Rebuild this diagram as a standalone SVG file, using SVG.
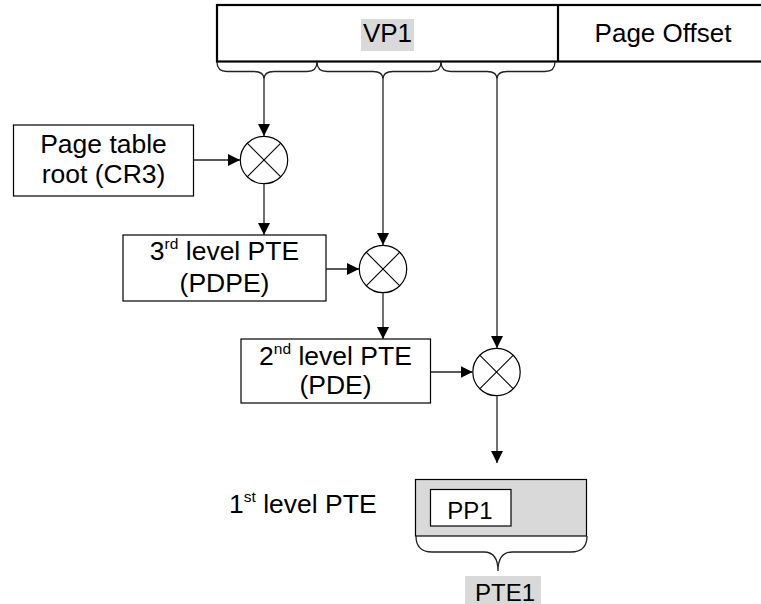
<svg xmlns="http://www.w3.org/2000/svg" width="761" height="604" viewBox="0 0 761 604">
<style>
text{font-family:"Liberation Sans",Arial,sans-serif;fill:#000}
.t24{font-size:24px}
.t26{font-size:26.5px}
.top{font-size:26px}
.sup{font-size:15.5px}
.box{fill:#fff;stroke:#000;stroke-width:1.2}
.line{fill:none;stroke:#222;stroke-width:1.3}
.brace{fill:none;stroke:#222;stroke-width:1.3}
.circ{fill:#fff;stroke:#000;stroke-width:1.2}
.hl{fill:#d9d9d9}
</style>
<defs>
<marker id="arr" markerUnits="userSpaceOnUse" markerWidth="13" markerHeight="13" refX="12" refY="6" orient="auto">
<path d="M0,0 L12,6 L0,12 Z" fill="#000"/>
</marker>
<g id="mult-sym">
<circle r="23.7" class="circ"/>
<line x1="-16.8" y1="-16.8" x2="16.8" y2="16.8" stroke="#000" stroke-width="1.1"/>
<line x1="-16.8" y1="16.8" x2="16.8" y2="-16.8" stroke="#000" stroke-width="1.1"/>
</g>
</defs>

<g id="address">
<rect x="217" y="5" width="548" height="56.5" fill="#fff" stroke="#000" stroke-width="2.2"/>
<line x1="558" y1="5" x2="558" y2="61.5" stroke="#000" stroke-width="2.2"/>
<rect class="hl" x="361" y="19" width="53" height="32"/>
<text class="top" x="387.5" y="42" text-anchor="middle">VP1</text>
<text class="top" x="663" y="42" text-anchor="middle">Page Offset</text>
<path class="brace" d="M217,62 Q217,71.5 227,71.5 H254 Q264,71.5 264,79 Q264,71.5 274,71.5 H307 Q317,71.5 317,62"/>
<path class="brace" d="M317,62 Q317,71.5 327,71.5 H373 Q383,71.5 383,79 Q383,71.5 393,71.5 H431 Q441,71.5 441,62"/>
<path class="brace" d="M441,62 Q441,71.5 451,71.5 H487 Q497,71.5 497,79 Q497,71.5 507,71.5 H545 Q555,71.5 555,62"/>
</g>

<g id="cr3">
<rect class="box" x="13.5" y="125" width="180" height="71"/>
<text class="t26" x="103.5" y="153" text-anchor="middle">Page table</text>
<text class="t26" x="103.5" y="183" text-anchor="middle">root (CR3)</text>
</g>

<g id="m1"><use href="#mult-sym" x="264" y="160"/></g>

<g id="pdpe">
<rect class="box" x="123" y="235" width="203" height="66"/>
<text class="t26" x="224.5" y="260" text-anchor="middle">3<tspan class="sup" dy="-11">rd</tspan><tspan dy="11"> level PTE</tspan></text>
<text class="t26" x="224.5" y="292" text-anchor="middle">(PDPE)</text>
</g>

<g id="m2"><use href="#mult-sym" x="383" y="269"/></g>

<g id="pde">
<rect class="box" x="241" y="339" width="189.5" height="64"/>
<text class="t26" x="335.5" y="365" text-anchor="middle">2<tspan class="sup" dy="-11">nd</tspan><tspan dy="11"> level PTE</tspan></text>
<text class="t26" x="335.5" y="394" text-anchor="middle">(PDE)</text>
</g>

<g id="m3"><use href="#mult-sym" x="496.5" y="372"/></g>

<g id="pte1">
<text class="t26" x="229" y="513">1<tspan class="sup" dy="-11">st</tspan><tspan dy="11"> level PTE</tspan></text>
<rect x="415.5" y="479.5" width="171" height="56.5" fill="#d9d9d9" stroke="#000" stroke-width="1.2"/>
<rect class="box" x="430.5" y="489.5" width="80.5" height="36.5"/>
<text class="t24" x="470" y="519" text-anchor="middle">PP1</text>
<path class="brace" d="M416,536 Q416,552 432,552 H484 Q498,552 498,571 Q498,552 512,552 H571 Q587,552 587,536"/>
<rect class="hl" x="465" y="576" width="76" height="30"/>
<text class="t24" x="505" y="600.5" text-anchor="middle">PTE1</text>
</g>

<g id="connectors">
<line class="line" x1="264" y1="79" x2="264" y2="136" marker-end="url(#arr)"/>
<line class="line" x1="193.5" y1="160" x2="240" y2="160" marker-end="url(#arr)"/>
<line class="line" x1="264" y1="184" x2="264" y2="235" marker-end="url(#arr)"/>
<line class="line" x1="383" y1="79" x2="383" y2="245" marker-end="url(#arr)"/>
<line class="line" x1="326" y1="269" x2="359" y2="269" marker-end="url(#arr)"/>
<line class="line" x1="383" y1="293" x2="383" y2="339" marker-end="url(#arr)"/>
<line class="line" x1="497" y1="79" x2="497" y2="348" marker-end="url(#arr)"/>
<line class="line" x1="430.5" y1="372" x2="472.5" y2="372" marker-end="url(#arr)"/>
<line class="line" x1="497" y1="396" x2="497" y2="463" marker-end="url(#arr)"/>
</g>
</svg>
